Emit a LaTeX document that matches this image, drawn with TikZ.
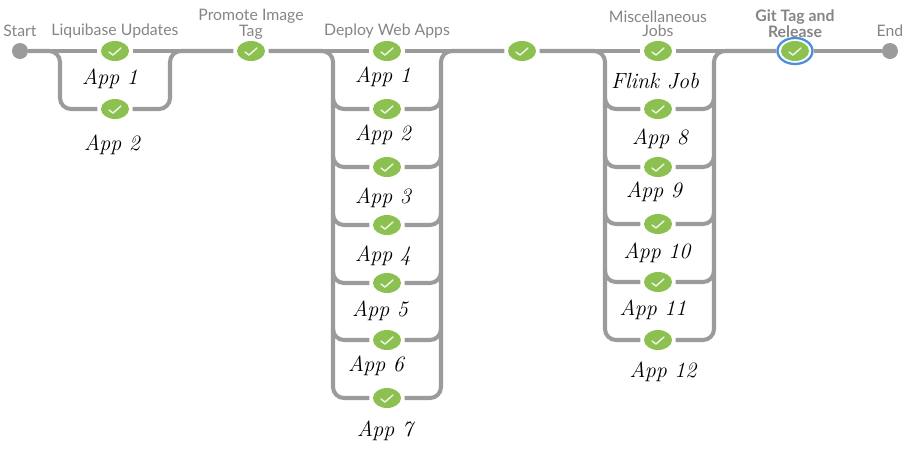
\documentclass[tikz,border=0pt]{standalone}
\usepackage{fontspec}
\setmainfont{Lato}
\newfontfamily\handfont{Latin Modern Roman}
\usetikzlibrary{shapes.geometric}
\definecolor{pipegray}{HTML}{9B9B9B}
\definecolor{stagegreen}{HTML}{8CC152}
\definecolor{ringblue}{HTML}{4A90D9}
\definecolor{titlegray}{HTML}{858585}
\begin{document}
\begin{tikzpicture}[x=0.02cm,y=-0.02cm]
    \tikzset{
      stage/.style={ellipse,fill=stagegreen,inner sep=0pt,minimum width=0.56cm,minimum height=0.4cm,outer sep=2pt},
      ends/.style={circle,fill=pipegray,inner sep=0pt,minimum size=0.32cm},
      ring/.style={ellipse,draw=ringblue,fill=white,line width=1.3pt,inner sep=0pt,minimum width=0.7cm,minimum height=0.52cm},
      pipe/.style={draw=pipegray,line width=2.3pt,rounded corners=0.22cm},
      tick/.style={draw=white!85!stagegreen,line width=0.8pt,line cap=round,line join=round},
      title/.style={text=titlegray,font=\fontsize{9}{8}\selectfont,align=center},
      hand/.style={font=\handfont\itshape\fontsize{12.5}{12}\selectfont}
    }
    \useasboundingbox (0,0) rectangle (921,451);
    % Draw the stages
    \node[ends] (start) at (20,51) {};
    \node[stage] (liq1) at (115,51) {};
    \node[stage] (liq2) at (115,109) {};
    \node[stage] (promote) at (251,51) {};
    \foreach \i/\y in {1/51,2/109,3/167,4/225,5/283,6/340,7/398}
      \node[stage] (dep\i) at (387,\y) {};
    \node[stage] (mid) at (522,51) {};
    \foreach \i/\y in {1/51,2/109,3/167,4/224,5/282,6/340}
      \node[stage] (misc\i) at (658,\y) {};
    \node[ring] (gitring) at (795,51) {};
    \node[stage,outer sep=0pt] (git) at (795,51) {};
    \node[ends] (end) at (890,51) {};
    % Draw the check marks
    \foreach \n in {liq1,liq2,promote,dep1,dep2,dep3,dep4,dep5,dep6,dep7,mid,misc1,misc2,misc3,misc4,misc5,misc6,git}
      \draw[tick] (\n) ++(-6,1) -- ++(4,3) -- ++(8,-7);
    % Rail corners
    \coordinate (liqL) at (60,80);
    \coordinate (liqR) at (170,80);
    \coordinate (depL) at (333,80);
    \coordinate (depR) at (441,80);
    \coordinate (miscL) at (605,80);
    \coordinate (miscR) at (714,80);
    % Draw the main line
    \draw[pipe] (start) -- (liq1);
    \draw[pipe] (liq1) -- (promote);
    \draw[pipe] (promote) -- (dep1);
    \draw[pipe] (dep1) -- (mid);
    \draw[pipe] (mid) -- (misc1);
    \draw[pipe] (misc1) -- (gitring);
    \draw[pipe] (gitring) -- (end);
    % Draw the rails
    \draw[pipe] (start) -| (liqL) |- (liq2);
    \draw[pipe] (promote) -| (liqR) |- (liq2);
    \draw[pipe] (promote) -| (depL) |- (dep7);
    \draw[pipe] (mid) -| (depR) |- (dep7);
    \draw[pipe] (mid) -| (miscL) |- (misc6);
    \draw[pipe] (gitring) -| (miscR) |- (misc6);
    % Draw the rungs
    \foreach \i/\y in {2/109,3/167,4/225,5/283,6/340}{
      \coordinate (depL\i) at (333,\y-11);
      \coordinate (depR\i) at (441,\y-11);
      \draw[pipe] (depL\i) |- (dep\i);
      \draw[pipe] (depR\i) |- (dep\i);
    }
    \foreach \i/\y in {2/109,3/167,4/224,5/282}{
      \coordinate (miscL\i) at (605,\y-11);
      \coordinate (miscR\i) at (714,\y-11);
      \draw[pipe] (miscL\i) |- (misc\i);
      \draw[pipe] (miscR\i) |- (misc\i);
    }
    % Titles
    \node[title] (tstart) at (20,31) {Start};
    \node[title] (tliq) at (115,31) {Liquibase Updates};
    \node[title] (tpromote) at (251,24) {Promote Image\\Tag};
    \node[title] (tdep) at (387,31) {Deploy Web Apps};
    \node[title] (tmisc) at (658,24) {Miscellaneous\\Jobs};
    \node[title,font=\fontsize{9}{8}\selectfont\bfseries] (tgit) at (795,24) {Git Tag and\\Release};
    \node[title] (tend) at (890,31) {End};
    % Labels
    \node[hand] (a1) at (110,79) {App 1};
    \node[hand] (a2) at (112,145) {App 2};
    \node[hand] (b1) at (383,77) {App 1};
    \node[hand] (b2) at (383,135) {App 2};
    \node[hand] (b3) at (383,198) {App 3};
    \node[hand] (b4) at (383,256) {App 4};
    \node[hand] (b5) at (380,311) {App 5};
    \node[hand] (b6) at (376,366) {App 6};
    \node[hand] (b7) at (385,431) {App 7};
    \node[hand] (c0) at (655,81) {Flink Job};
    \node[hand] (c1) at (660,139) {App 8};
    \node[hand] (c2) at (654,192) {App 9};
    \node[hand] (c3) at (657,253) {App 10};
    \node[hand] (c4) at (653,310) {App 11};
    \node[hand] (c5) at (663,372) {App 12};
  \end{tikzpicture}
\end{document}
